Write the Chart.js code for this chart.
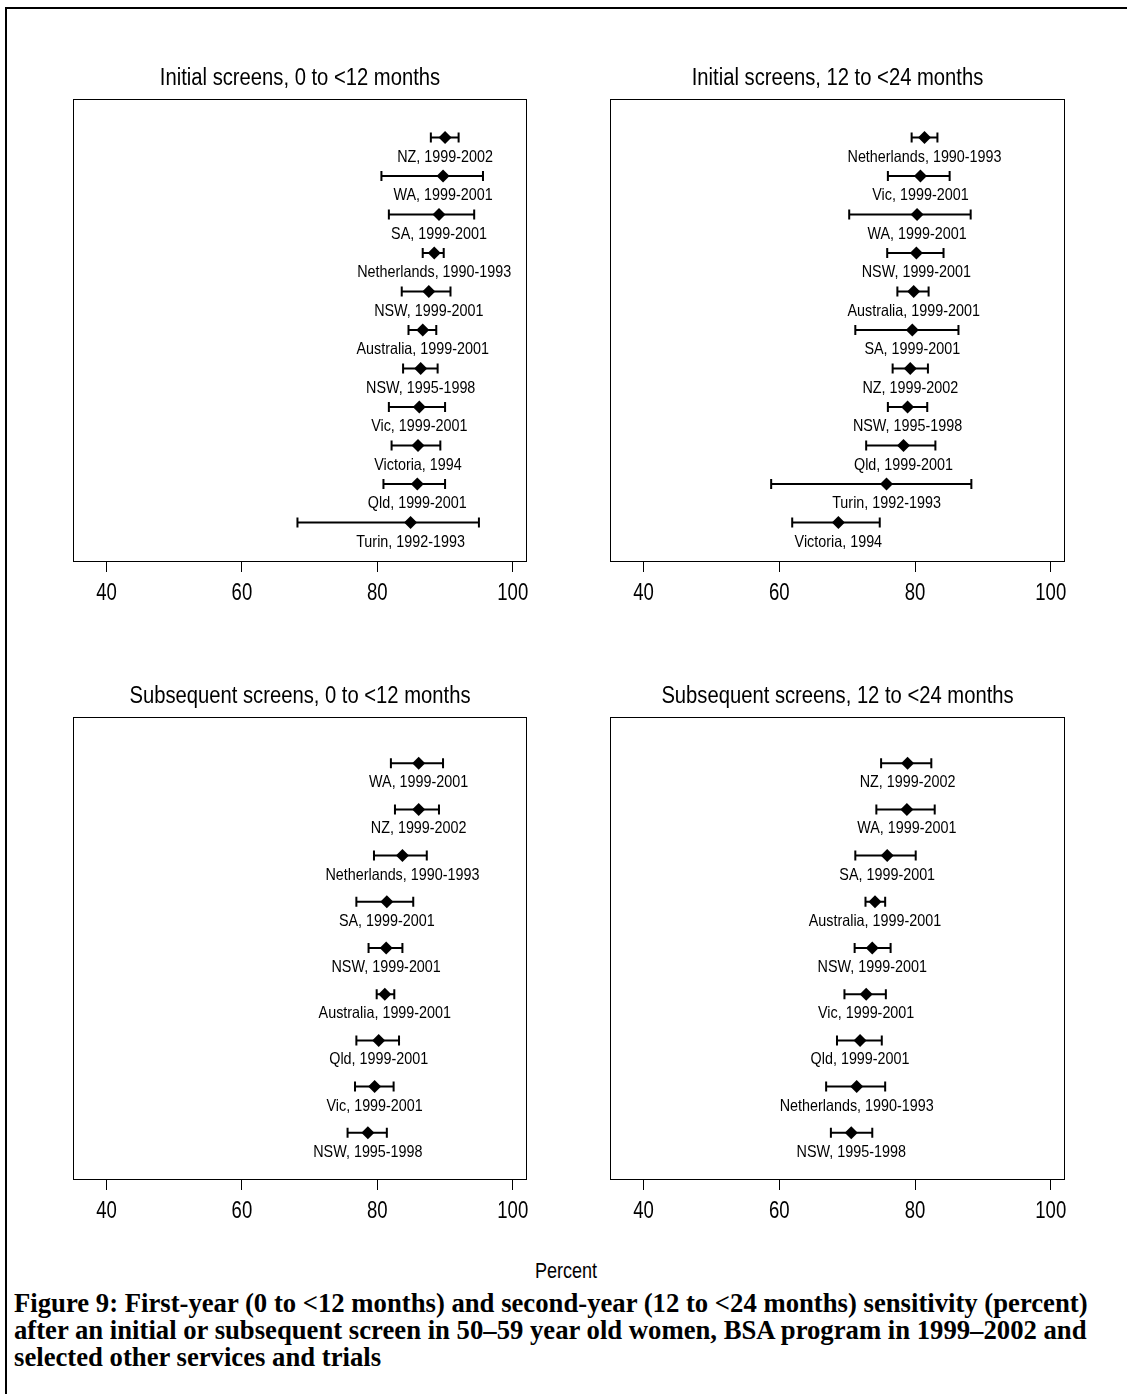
<!DOCTYPE html>
<html lang="en">
<head>
  <meta charset="UTF-8">
  <script src="https://cdn.jsdelivr.net/npm/chart.js"></script>
  <title>Figure 9</title>
  <style>
    body{margin:0; background:#fff; width:1127px; height:1394px; position:relative; overflow:hidden;}
    #frame{position:absolute; left:5px; top:7px; right:-10px; bottom:-10px; border-top:2px solid #000; border-left:2px solid #000;}
    canvas{position:absolute;}
    #c1{left:33px; top:39px;}
    #c2{left:570px; top:39px;}
    #c3{left:33px; top:657px;}
    #c4{left:570px; top:657px;}
    #xlab{position:absolute; left:466px; top:1258px; width:200px; text-align:center; transform:scaleX(0.82);
          font:22px "Liberation Sans", Arial, sans-serif; color:#000;}
    #caption{position:absolute; left:14px; top:1290px; width:1110px; white-space:nowrap;
             font:bold 26.7px "Liberation Serif", "Times New Roman", serif; line-height:27px; color:#000;}
  </style>
  <script>
    // x axis
    const ticksX = [40, 60, 80, 100];

    // Initial screens, 0 to <12 months
    const p1Labels = ["NZ, 1999-2002", "WA, 1999-2001", "SA, 1999-2001", "Netherlands, 1990-1993", "NSW, 1999-2001",
      "Australia, 1999-2001", "NSW, 1995-1998", "Vic, 1999-2001", "Victoria, 1994", "Qld, 1999-2001", "Turin, 1992-1993"];
    const p1Est  = [90.0, 89.7, 89.1, 88.4, 87.6, 86.7, 86.4, 86.2, 86.0, 85.9, 84.9];
    const p1Low  = [87.9, 80.6, 81.7, 86.7, 83.6, 84.6, 83.8, 81.7, 82.1, 80.9, 68.2];
    const p1High = [92.0, 95.6, 94.3, 89.8, 90.8, 88.7, 88.9, 90.0, 89.3, 90.0, 95.0];

    // Initial screens, 12 to <24 months
    const p2Labels = ["Netherlands, 1990-1993", "Vic, 1999-2001", "WA, 1999-2001", "NSW, 1999-2001", "Australia, 1999-2001",
      "SA, 1999-2001", "NZ, 1999-2002", "NSW, 1995-1998", "Qld, 1999-2001", "Turin, 1992-1993", "Victoria, 1994"];
    const p2Est  = [81.4, 80.8, 80.3, 80.2, 79.8, 79.6, 79.3, 78.9, 78.3, 75.8, 68.7];
    const p2Low  = [79.5, 76.0, 70.3, 75.9, 77.4, 71.2, 76.7, 76.0, 72.8, 58.8, 61.9];
    const p2High = [83.3, 85.1, 88.2, 84.2, 82.0, 86.4, 81.9, 81.8, 83.0, 88.3, 74.8];

    // Subsequent screens, 0 to <12 months
    const p3Labels = ["WA, 1999-2001", "NZ, 1999-2002", "Netherlands, 1990-1993", "SA, 1999-2001", "NSW, 1999-2001",
      "Australia, 1999-2001", "Qld, 1999-2001", "Vic, 1999-2001", "NSW, 1995-1998"];
    const p3Est  = [86.1, 86.1, 83.7, 81.4, 81.3, 81.1, 80.2, 79.6, 78.6];
    const p3Low  = [82.0, 82.6, 79.5, 76.9, 78.7, 79.9, 76.9, 76.7, 75.6];
    const p3High = [89.7, 89.1, 87.3, 85.3, 83.7, 82.5, 83.2, 82.4, 81.4];

    // Subsequent screens, 12 to <24 months
    const p4Labels = ["NZ, 1999-2002", "WA, 1999-2001", "SA, 1999-2001", "Australia, 1999-2001", "NSW, 1999-2001",
      "Vic, 1999-2001", "Qld, 1999-2001", "Netherlands, 1990-1993", "NSW, 1995-1998"];
    const p4Est  = [78.9, 78.8, 75.9, 74.1, 73.7, 72.8, 71.9, 71.4, 70.6];
    const p4Low  = [75.0, 74.3, 71.2, 72.7, 71.1, 69.6, 68.5, 66.9, 67.6];
    const p4High = [82.4, 82.9, 80.1, 75.6, 76.4, 75.7, 75.1, 75.6, 73.7];

    const sans = '"Liberation Sans", Arial, sans-serif';

    // no narrow font installed, so squeeze Liberation Sans sideways
    function narrowText(ctx, text, x, y, size, squeeze) {
      ctx.save();
      ctx.translate(x, y);
      ctx.scale(squeeze, 1);
      ctx.font = size + 'px ' + sans;
      ctx.textAlign = 'center';
      ctx.textBaseline = 'alphabetic';
      ctx.fillStyle = '#000';
      ctx.fillText(text, 0, 0);
      ctx.restore();
    }

    // error bars, row labels, tick labels, box and title
    const forestPlugin = {
      id: 'forest',
      beforeDatasetsDraw(chart, args, opts) {
        const ctx = chart.ctx, xs = chart.scales.x, ys = chart.scales.y;
        ctx.save();
        ctx.strokeStyle = '#000';
        ctx.lineWidth = 2;
        opts.low.forEach((lo, i) => {
          const y = ys.getPixelForValue(i + 1);
          const x1 = xs.getPixelForValue(lo), x2 = xs.getPixelForValue(opts.high[i]);
          ctx.beginPath();
          ctx.moveTo(x1, y); ctx.lineTo(x2, y);
          ctx.moveTo(x1, y - 5); ctx.lineTo(x1, y + 5);
          ctx.moveTo(x2, y - 5); ctx.lineTo(x2, y + 5);
          ctx.stroke();
        });
        ctx.restore();
      },
      afterDraw(chart, args, opts) {
        const ctx = chart.ctx, xs = chart.scales.x, ys = chart.scales.y, a = chart.chartArea;
        opts.labels.forEach((lab, i) => {
          narrowText(ctx, lab, xs.getPixelForValue(opts.est[i]), ys.getPixelForValue(i + 1) + 24, 16.5, 0.87);
        });
        xs.ticks.forEach(t => {
          narrowText(ctx, String(t.value), xs.getPixelForValue(t.value), a.bottom + 39, 23.5, 0.79);
        });
        narrowText(ctx, opts.title, (a.left + a.right) / 2, a.top - 14, 23.5, 0.86);
        ctx.save();
        ctx.strokeStyle = '#000';
        ctx.lineWidth = 1;
        ctx.strokeRect(Math.round(a.left) + 0.5, Math.round(a.top) + 0.5,
          Math.round(a.right - a.left) - 1, Math.round(a.bottom - a.top));
        ctx.restore();
      }
    };

    function drawPanel(id, title, labels, est, low, high) {
      const ctx = document.getElementById(id);
      new Chart(ctx, {
        type: 'scatter',
        data: {
          datasets: [{
            data: est.map((v, i) => ({x: v, y: i + 1})),
            pointStyle: 'rectRot',
            pointRadius: 6.5,
            pointHoverRadius: 6.5,
            backgroundColor: '#000',
            borderColor: '#000',
            borderWidth: 0
          }]
        },
        options: {
          responsive: false,
          animation: false,
          events: [],
          layout: {padding: {left: 40, right: 40, top: 60, bottom: 0}},
          plugins: {
            legend: {display: false},
            tooltip: {enabled: false},
            forest: {title: title, labels: labels, est: est, low: low, high: high}
          },
          scales: {
            x: {
              type: 'linear',
              min: 35.05,
              max: 102.1,
              afterBuildTicks: s => { s.ticks = ticksX.map(v => ({value: v})); },
              afterFit: s => { s.height = 60; },
              grid: {drawOnChartArea: false, drawTicks: true, tickLength: 11, color: '#000', lineWidth: 1},
              border: {display: false},
              ticks: {display: false}
            },
            y: {display: false, min: 0, max: labels.length + 1, reverse: true}
          }
        },
        plugins: [forestPlugin]
      });
    }

    window.addEventListener('load', function(){
      drawPanel('c1', 'Initial screens, 0 to <12 months', p1Labels, p1Est, p1Low, p1High);
      drawPanel('c2', 'Initial screens, 12 to <24 months', p2Labels, p2Est, p2Low, p2High);
      drawPanel('c3', 'Subsequent screens, 0 to <12 months', p3Labels, p3Est, p3Low, p3High);
      drawPanel('c4', 'Subsequent screens, 12 to <24 months', p4Labels, p4Est, p4Low, p4High);
    });
  </script>
</head>
<body>
  <div id="frame"></div>
  <canvas id="c1" width="534" height="582"></canvas>
  <canvas id="c2" width="535" height="582"></canvas>
  <canvas id="c3" width="534" height="582"></canvas>
  <canvas id="c4" width="535" height="582"></canvas>
  <div id="xlab">Percent</div>
  <div id="caption">Figure 9: First-year (0 to &lt;12 months) and second-year (12 to &lt;24 months) sensitivity (percent)<br>after an initial or subsequent screen in 50–59 year old women, BSA program in 1999–2002 and<br>selected other services and trials</div>
</body>
</html>
